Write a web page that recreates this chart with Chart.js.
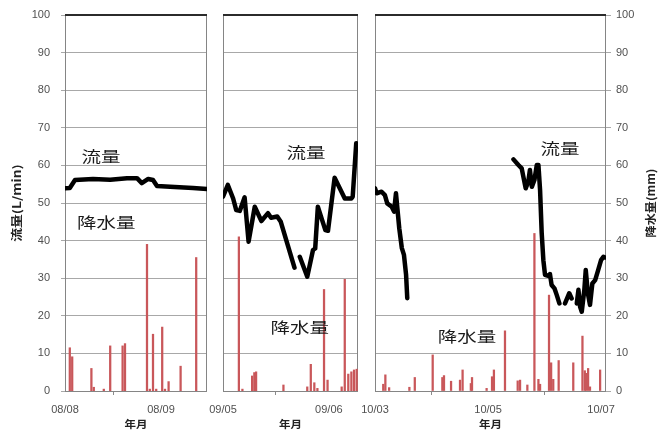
<!DOCTYPE html>
<html>
<head>
<meta charset="utf-8">
<script src="https://cdn.jsdelivr.net/npm/chart.js@4/dist/chart.umd.min.js"></script>
<style>
  html, body { margin: 0; padding: 0; background: #fff; }
  #wrap { position: relative; width: 661px; height: 436px; }
  #wrap canvas { position: absolute; left: 0; top: 0; }
</style>
</head>
<body>
<div id="wrap">
  <canvas id="c1" width="661" height="436"></canvas>
  <canvas id="c2" width="661" height="436"></canvas>
  <canvas id="c3" width="661" height="436"></canvas>
</div>
<script>
// ---- Period 1 (hours from 08/08 00:00) ----
const augFlowHours = [0, 1.2, 2.5, 7.0, 11.3, 15.5, 18.0, 19.2, 20.8, 22.0, 23.0, 26.3, 32.0, 35.5];
const augFlow      = [53.9, 54.0, 56.1, 56.4, 56.2, 56.6, 56.6, 55.3, 56.4, 56.1, 54.5, 54.3, 54.0, 53.7];
const augRainHours = [1.2, 1.8, 6.6, 7.2, 9.7, 11.3, 14.4, 15.0, 20.5, 21.2, 22.0, 22.8, 24.3, 25.0, 25.9, 28.9, 32.8];
const augRain      = [11.5, 9.1, 6.0, 1.0, 0.5, 12.0, 12.0, 12.6, 39.0, 0.5, 15.1, 0.5, 17.0, 0.5, 2.5, 6.6, 35.5];
const augTickHours = [0, 24];
const augTickLabels = ['08/08', '08/09'];
const augSpanHours = 35.5;

// ---- Period 2 (hours from 09/05 00:00) ----
const sepFlowHours = [0, 1.1, 2.3, 3.0, 3.8, 4.9, 5.8, 7.2, 8.7, 10.2, 10.9, 12.3, 13.1, 16.2, 16.8,
                      17.4, 19.1, 20.4, 20.9, 21.5, 23.2, 23.8, 25.3, 27.6, 29.1, 29.4, 30.2];
const sepFlow      = [51.7, 54.8, 51.2, 48.1, 47.9, 51.5, 39.7, 49.0, 45.2, 47.3, 46.1, 46.4, 45.0, 32.8, null,
                      35.7, 30.4, 37.5, 37.9, 49.0, 42.8, 42.6, 56.7, 51.2, 51.2, 51.7, 65.9];
const sepRainHours = [3.6, 4.4, 6.6, 7.1, 7.5, 13.7, 19.1, 19.9, 20.7, 21.4, 22.9, 23.7, 26.9, 27.6, 28.4, 29.1, 29.7, 30.3];
const sepRain      = [41.0, 0.5, 4.0, 4.9, 5.1, 1.6, 1.1, 7.1, 2.2, 0.7, 27.0, 2.9, 1.1, 29.7, 4.5, 5.1, 5.6, 5.8];
const sepTickHours = [0, 24];
const sepTickLabels = ['09/05', '09/06'];
const sepSpanHours = 30.6;

// ---- Period 3 (hours from 10/03 00:00) ----
const octFlowHours = [0, 0.7, 2.8, 4.2, 5.2, 7.1, 8.1, 8.9, 9.5, 10.3, 11.4, 12.3, 13.2, 13.7, 30.0,
                      58.8, 60.9, 62.3, 63.0, 64.0, 65.1, 65.8, 66.6, 67.7, 68.7, 69.4, 70.1, 70.8, 71.5,
                      72.2, 73.6, 74.3, 75.0, 76.2, 77.2, 78.3, 79.5,
                      80.7, 82.5, 83.5, 84.6,
                      85.7, 86.4, 87.1, 87.8, 88.9, 89.5, 90.4, 91.3, 92.3, 93.5, 94.8, 96.0, 97.0, 97.7];
const octFlow      = [53.9, 52.6, 53.0, 52.1, 49.9, 49.0, 47.7, 52.6, 48.6, 43.3, 38.0, 36.2, 30.9, 24.7, null,
                      61.6, 60.1, 59.2, 57.0, 53.9, 55.7, 58.8, 54.3, 56.1, 60.1, 60.1, 53.5, 41.9, 34.8,
                      30.9, 30.6, 31.1, 28.2, 27.3, 25.5, 23.3, null,
                      23.3, 26.0, 24.6, null,
                      23.3, 26.9, 22.4, 21.1, 26.9, 32.2, 26.0, 22.9, 28.6, 29.5, 32.2, 34.8, 35.7, 35.5];
const octRainHours = [3.5, 4.4, 6.0, 14.6, 16.9, 24.5, 28.6, 29.3, 32.3, 36.1, 37.2, 40.7, 41.2, 47.4, 49.7, 50.5,
                      55.2, 60.6, 61.6, 64.7, 67.7, 69.4, 70.1, 73.9, 74.8, 75.7, 78.0, 84.2, 88.1, 89.1,
                      89.6, 90.5, 91.3, 95.6];
const octRain      = [1.8, 4.3, 0.9, 1.0, 3.6, 9.6, 3.6, 4.1, 2.6, 2.9, 5.6, 2.0, 3.6, 0.7, 3.8, 5.6,
                      16.0, 2.7, 2.9, 1.6, 41.9, 3.1, 1.8, 25.5, 7.5, 3.1, 8.1, 7.5, 14.6, 5.4,
                      4.7, 6.0, 1.1, 5.6];
const octTickHours = [0, 48, 96];
const octTickLabels = ['10/03', '10/05', '10/07'];
const octSpanHours = 98.1;

// Shared text
const flowAxisTitle = '流量(L/min)';
const rainAxisTitle = '降水量(mm)';
const timeAxisTitle = '年月';
const flowLabel = '流量';
const rainLabel = '降水量';

const CJK = '"Noto Sans CJK JP", "Noto Sans", sans-serif';
const LATIN = '"Liberation Sans", Arial, sans-serif';
const GRID = '#a8a8a8';
const TICK_TEXT = '#505050';

// Draws stretched text centred on (x, y), optionally rotated.
function stretchedText(ctx, text, x, y, font, sx, angle, color) {
  ctx.save();
  ctx.translate(x, y);
  if (angle) ctx.rotate(angle);
  ctx.scale(sx, 1);
  ctx.font = font;
  ctx.fillStyle = color;
  ctx.textAlign = 'center';
  ctx.textBaseline = 'middle';
  ctx.fillText(text, 0, 0);
  ctx.restore();
}

// Fixes a vertical scale's width and stops its labels from pushing the plot area
function fixWidth(width) {
  return s => { s.width = width; s.paddingTop = 0; s.paddingBottom = 0; };
}

// Panel frame, in-plot labels and axis titles
const panelDecor = {
  id: 'panelDecor',
  beforeDatasetsDraw(chart) {
    const { ctx, chartArea: a } = chart;
    ctx.save();
    ctx.strokeStyle = '#858585';
    ctx.lineWidth = 1;
    ctx.strokeRect(Math.round(a.left) + 0.5, Math.round(a.top) + 0.5,
                   Math.round(a.right - a.left) - 1, Math.round(a.bottom - a.top));
    ctx.strokeStyle = '#2b2b2b';
    ctx.lineWidth = 2;
    ctx.beginPath();
    ctx.moveTo(a.left, Math.round(a.top));
    ctx.lineTo(a.right, Math.round(a.top));
    ctx.stroke();
    ctx.restore();
  },
  afterDraw(chart, args, opts) {
    const { ctx, chartArea: a, scales } = chart;
    (opts.labels || []).forEach(l => {
      stretchedText(ctx, l.text, scales.x.getPixelForValue(l.x), scales.y.getPixelForValue(l.y),
                    '15px ' + CJK, 1.3, 0, '#1a1a1a');
    });
    const midY = (a.top + a.bottom) / 2;
    if (opts.leftTitle) {
      stretchedText(ctx, opts.leftTitle, 17, midY, 'bold 11px ' + CJK, 1.25, -Math.PI / 2, '#222');
    }
    if (opts.rightTitle) {
      stretchedText(ctx, opts.rightTitle, 651, midY, 'bold 11px ' + CJK, 1.1, -Math.PI / 2, '#222');
    }
    stretchedText(ctx, timeAxisTitle, (a.left + a.right) / 2, 424, 'bold 10px ' + CJK, 1.15, 0, '#222');
  }
};

function makePanel(canvasId, p) {
  const flowPoints = p.flowHours.map((h, i) => ({ x: h, y: p.flow[i] }));
  const rainPoints = p.rainHours.map((h, i) => ({ x: h, y: p.rain[i] }));

  const hiddenY = {
    type: 'linear', min: 0, max: 100,
    display: true,
    ticks: { display: false, stepSize: 10 },
    grid: { display: false },
    border: { display: false },
    afterFit: fixWidth(0)
  };
  const shownY = (side, width) => ({
    type: 'linear', position: side, min: 0, max: 100,
    ticks: {
      stepSize: 10, color: TICK_TEXT, padding: side === 'left' ? 11 : 5,
      font: { family: LATIN, size: 11 }
    },
    grid: { color: GRID, lineWidth: 1, drawTicks: true, tickLength: side === 'left' ? 4 : 5 },
    border: { display: false },
    afterFit: fixWidth(width)
  });
  const gridOnlyY = {
    type: 'linear', position: 'left', min: 0, max: 100,
    ticks: { display: false, stepSize: 10 },
    grid: { color: GRID, lineWidth: 1, drawTicks: false },
    border: { display: false },
    afterFit: fixWidth(0)
  };

  let yScale, y2Scale;
  if (p.axis === 'left') {
    yScale = shownY('left', 65);
    y2Scale = Object.assign({}, hiddenY, { position: 'right' });
  } else if (p.axis === 'right') {
    yScale = Object.assign({}, hiddenY, { position: 'left' });
    y2Scale = shownY('right', 55);
  } else {
    yScale = gridOnlyY;
    y2Scale = Object.assign({}, hiddenY, { position: 'right' });
  }

  return new Chart(document.getElementById(canvasId), {
    data: {
      datasets: [
        {
          type: 'line', label: flowLabel, data: flowPoints, yAxisID: 'y',
          borderColor: '#000', borderWidth: 4.5, pointRadius: 0, tension: 0,
          spanGaps: false, borderJoinStyle: 'round', borderCapStyle: 'round', order: 0
        },
        {
          type: 'bar', label: rainLabel, data: rainPoints, yAxisID: 'y2',
          backgroundColor: '#c9575a', borderWidth: 0, barThickness: 1.6, order: 1
        }
      ]
    },
    options: {
      responsive: false,
      animation: false,
      events: [],
      layout: { padding: { left: p.padLeft, right: p.padRight, top: 15, bottom: 0 } },
      scales: {
        x: {
          type: 'linear', min: 0, max: p.span, offset: false,
          afterBuildTicks: s => { s.ticks = p.tickHours.map(v => ({ value: v })); },
          ticks: {
            autoSkip: false, maxRotation: 0, padding: 8, color: TICK_TEXT,
            font: { family: LATIN, size: 11 },
            callback: v => { const i = p.tickHours.indexOf(v); return i >= 0 ? p.tickLabels[i] : ''; }
          },
          grid: { drawOnChartArea: false, drawTicks: true, tickLength: 4, color: '#8a8a8a' },
          border: { display: false },
          afterFit: s => { s.height = 45; }
        },
        y: yScale,
        y2: y2Scale
      },
      plugins: {
        legend: { display: false },
        tooltip: { enabled: false },
        panelDecor: {
          labels: p.labels,
          leftTitle: p.axis === 'left' ? flowAxisTitle : null,
          rightTitle: p.axis === 'right' ? rainAxisTitle : null
        }
      }
    },
    plugins: [panelDecor]
  });
}

makePanel('c1', {
  flowHours: augFlowHours, flow: augFlow, rainHours: augRainHours, rain: augRain,
  tickHours: augTickHours, tickLabels: augTickLabels, span: augSpanHours,
  axis: 'left', padLeft: 0, padRight: 454,
  labels: [{ text: flowLabel, x: 9.0, y: 62.5 }, { text: rainLabel, x: 10.3, y: 45.0 }]
});
makePanel('c2', {
  flowHours: sepFlowHours, flow: sepFlow, rainHours: sepRainHours, rain: sepRain,
  tickHours: sepTickHours, tickLabels: sepTickLabels, span: sepSpanHours,
  axis: 'none', padLeft: 223, padRight: 303,
  labels: [{ text: flowLabel, x: 18.8, y: 63.6 }, { text: rainLabel, x: 17.4, y: 17.0 }]
});
makePanel('c3', {
  flowHours: octFlowHours, flow: octFlow, rainHours: octRainHours, rain: octRain,
  tickHours: octTickHours, tickLabels: octTickLabels, span: octSpanHours,
  axis: 'right', padLeft: 375, padRight: 0,
  labels: [{ text: flowLabel, x: 78.6, y: 64.6 }, { text: rainLabel, x: 39.1, y: 14.6 }]
});
</script>
</body>
</html>
